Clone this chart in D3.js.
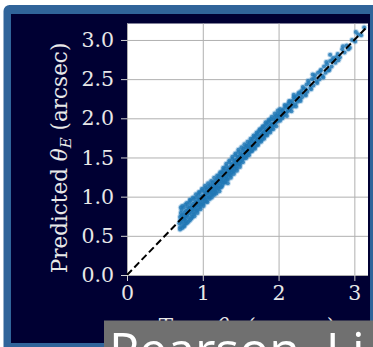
<!DOCTYPE html>
<html>
<head>
<meta charset="utf-8">
<script src="https://cdn.jsdelivr.net/npm/d3@7"></script>
<style>
  html, body { margin: 0; padding: 0; background: #ffffff; }
  svg { display: block; }
</style>
</head>
<body>
<svg id="chart" width="373" height="347"></svg>
<script>
// true vs predicted Einstein radius (arcsec)
var trueTheta = [
  0.69,0.70,0.70,0.71,0.71,0.72,0.72,0.73,0.73,0.74,0.74,0.75,0.75,0.76,0.76,0.77,0.77,0.78,0.78,0.79,0.79,0.80,0.80,0.70,0.72,0.74,0.76,0.78,
  0.81,0.81,0.82,0.82,0.83,0.83,0.84,0.84,0.85,0.85,0.86,0.86,0.87,0.87,0.88,0.88,0.89,0.89,0.90,0.90,0.91,0.91,0.92,0.92,0.93,0.93,0.94,0.94,0.95,0.95,0.96,0.96,0.97,0.97,0.98,0.98,0.99,0.99,
  1.00,1.00,1.01,1.01,1.02,1.02,1.03,1.03,1.04,1.04,1.05,1.05,1.06,1.06,1.07,1.07,1.08,1.08,1.09,1.09,1.10,1.10,1.11,1.11,1.12,1.12,1.13,1.13,1.14,1.14,1.15,1.15,1.16,1.16,1.17,1.17,1.18,1.18,1.19,1.19,1.20,1.20,
  1.21,1.21,1.22,1.22,1.23,1.23,1.24,1.24,1.25,1.25,1.26,1.26,1.27,1.27,1.28,1.28,1.29,1.29,1.30,1.30,1.31,1.31,1.32,1.32,1.33,1.33,1.34,1.34,1.35,1.35,1.36,1.36,1.37,1.37,1.38,1.38,1.39,1.39,1.40,1.40,
  1.41,1.41,1.42,1.42,1.43,1.43,1.44,1.44,1.45,1.45,1.46,1.46,1.47,1.47,1.48,1.48,1.49,1.49,1.50,1.50,1.51,1.52,1.52,1.53,1.54,1.54,1.55,1.56,1.56,1.57,1.58,1.58,1.59,1.60,1.60,
  1.61,1.62,1.62,1.63,1.64,1.64,1.65,1.66,1.66,1.67,1.68,1.68,1.69,1.70,1.70,1.71,1.72,1.72,1.73,1.74,1.74,1.75,1.76,1.76,1.77,1.78,1.78,1.79,1.80,1.80,
  1.81,1.82,1.82,1.83,1.84,1.84,1.85,1.86,1.86,1.87,1.88,1.88,1.89,1.90,1.90,1.91,1.92,1.93,1.94,1.95,1.96,1.97,1.98,1.99,2.00,
  2.01,2.02,2.03,2.04,2.05,2.06,2.07,2.08,2.09,2.10,2.11,2.12,2.13,2.14,2.15,2.16,2.18,2.19,2.21,2.22,2.24,2.25,2.27,2.28,2.30,2.31,2.33,2.35,2.37,2.38,2.40,
  2.42,2.44,2.46,2.48,2.50,2.52,2.54,2.56,2.58,2.60,2.62,2.64,2.66,2.68,2.70,2.72,2.75,2.78,
  2.81,2.84,2.87,2.90,2.94,2.97,3.01,3.05,3.09,3.13,2.68,2.45,2.20,
  0.70,0.71,0.73,0.75,0.77,0.79,0.81,0.83,0.85,0.87,0.89,0.91,0.93,0.95,0.97,0.99,1.01,1.03,1.05,1.07,1.09,1.11,1.13,1.15,1.17,1.19,1.21,1.23,1.25,1.27,1.29,1.31,1.33,
  1.35,1.37,1.39,1.41,1.43,1.45,1.47,1.49,1.51,1.53,1.55,1.57,1.59,1.61,1.63,1.65,1.67,1.69,1.71,1.73,1.75,1.77,1.79,1.81,1.83,1.85,1.87,1.89,1.91,1.93,1.95,1.97,1.99,
  2.02,2.05,2.08,2.11,2.14,2.17,2.20,2.23,2.26,2.29,2.32,2.36,2.39,2.43,2.47,2.51,2.55,2.59,2.63,2.67,2.71,2.76,2.79,2.85,2.92,3.02,
  0.75,0.80,0.84,0.88,0.92,0.96,1.00,1.04,1.08,1.12,1.16,1.20,1.24,1.28,1.32,1.36,1.40,1.44,1.48,1.52,1.56,1.60,1.64,1.68,1.72,1.76,1.80,1.84,1.88,1.92,1.96,2.00,
  2.06,2.12,2.18,2.24,2.30,2.36
];
var predTheta = [
  0.66,0.74,0.61,0.79,0.70,0.65,0.83,0.72,0.60,0.77,0.68,0.86,0.71,0.63,0.80,0.74,0.90,0.69,0.82,0.76,0.66,0.87,0.78,0.69,0.76,0.73,0.71,0.77,
  0.73,0.84,0.92,0.79,0.70,0.86,0.81,0.95,0.77,0.88,0.83,0.74,0.91,0.85,0.80,0.97,0.87,0.78,0.93,0.84,0.99,0.88,0.82,0.94,0.89,0.79,1.02,0.92,0.86,0.97,0.91,1.05,0.84,0.95,1.00,0.90,0.96,1.08,
  0.92,1.01,0.97,0.88,1.06,1.00,0.94,1.11,1.03,0.96,1.09,0.99,1.04,0.93,1.13,1.06,1.00,1.10,1.05,0.97,1.15,1.08,1.02,1.12,1.07,0.99,1.18,1.10,1.05,1.14,1.09,1.02,1.20,1.13,1.08,1.17,1.12,1.04,1.23,1.16,1.11,1.19,
  1.14,1.26,1.07,1.20,1.17,1.29,1.12,1.22,1.19,1.31,1.15,1.25,1.21,1.34,1.18,1.27,1.24,1.36,1.20,1.30,1.26,1.39,1.23,1.33,1.29,1.17,1.36,1.27,1.32,1.44,1.29,1.38,1.34,1.24,1.41,1.31,1.37,1.48,1.33,1.43,
  1.39,1.29,1.46,1.36,1.42,1.53,1.38,1.47,1.43,1.33,1.51,1.41,1.46,1.57,1.43,1.52,1.48,1.38,1.55,1.45,1.51,1.47,1.59,1.53,1.49,1.61,1.55,1.51,1.63,1.57,1.52,1.65,1.59,1.55,1.66,
  1.61,1.57,1.69,1.63,1.59,1.71,1.65,1.61,1.74,1.67,1.63,1.76,1.70,1.65,1.78,1.72,1.67,1.80,1.74,1.70,1.83,1.76,1.72,1.85,1.79,1.73,1.87,1.81,1.76,1.89,
  1.83,1.78,1.91,1.85,1.80,1.93,1.87,1.82,1.95,1.89,1.84,1.97,1.91,1.86,1.99,1.93,1.88,1.98,1.91,2.02,1.94,2.03,1.96,2.06,1.98,
  2.04,1.97,2.08,2.01,2.10,2.03,2.12,2.05,2.15,2.07,2.16,2.09,2.19,2.11,2.21,2.13,2.22,2.15,2.26,2.18,2.28,2.21,2.33,2.24,2.35,2.27,2.38,2.31,2.43,2.34,2.45,
  2.39,2.50,2.42,2.55,2.47,2.58,2.50,2.62,2.54,2.66,2.58,2.69,2.61,2.73,2.66,2.77,2.71,2.82,
  2.78,2.88,2.84,2.93,2.90,3.00,2.98,3.07,3.06,3.16,2.81,2.56,2.30,
  0.58,0.86,0.88,0.62,0.66,0.92,0.68,0.96,0.72,0.99,0.75,1.03,0.83,1.06,0.87,1.10,0.91,1.14,0.94,1.17,0.99,1.20,1.03,1.24,1.06,1.27,1.10,1.31,1.13,1.37,1.18,1.42,1.22,
  1.46,1.27,1.51,1.32,1.55,1.36,1.60,1.41,1.63,1.44,1.67,1.49,1.70,1.53,1.74,1.58,1.78,1.61,1.82,1.66,1.86,1.70,1.90,1.74,1.95,1.78,1.98,1.82,2.02,1.86,2.06,1.90,2.10,
  2.12,2.00,2.17,2.03,2.22,2.09,2.27,2.15,2.31,2.22,2.40,2.29,2.48,2.37,2.51,2.45,2.60,2.52,2.72,2.62,2.74,2.78,2.74,2.92,2.88,3.10,
  0.75,0.81,0.85,0.88,0.91,0.97,0.99,1.05,1.07,1.13,1.16,1.22,1.25,1.30,1.31,1.35,1.39,1.44,1.49,1.53,1.57,1.61,1.65,1.69,1.74,1.77,1.81,1.86,1.90,1.92,1.98,2.02,
  2.07,2.13,2.19,2.24,2.31,2.37
];
var xTicks = [0, 1, 2, 3];
var yTicks = [0, 0.5, 1.0, 1.5, 2.0, 2.5, 3.0];
var axisMax = [3.18, 3.21];

var svg = d3.select("#chart");

// frame
svg.append("rect").attr("x",3.5).attr("y",5).attr("width",375).attr("height",348).attr("rx",6).attr("fill","#30649a");
svg.append("rect").attr("x",11).attr("y",14).attr("width",359).attr("height",329).attr("fill","#000033");

var plot = {left:127, right:368, top:23.5, bottom:275};
var x = d3.scaleLinear().domain([0, axisMax[0]]).range([plot.left, plot.right]);
var y = d3.scaleLinear().domain([0, axisMax[1]]).range([plot.bottom, plot.top]);

svg.append("rect").attr("x",plot.left).attr("y",plot.top)
    .attr("width",plot.right-plot.left).attr("height",plot.bottom-plot.top).attr("fill","#ffffff");

// grid
var gx = svg.append("g").attr("transform","translate(0,"+plot.bottom+")")
    .call(d3.axisBottom(x).tickValues(xTicks).tickSize(-(plot.bottom-plot.top)).tickFormat(""));
var gy = svg.append("g").attr("transform","translate("+plot.left+",0)")
    .call(d3.axisLeft(y).tickValues(yTicks).tickSize(-(plot.right-plot.left)).tickFormat(""));
[gx,gy].forEach(function(g){
  g.select(".domain").remove();
  g.selectAll("line").attr("stroke","#b0b0b0").attr("stroke-width",1);
});

// points: light halo first, then the solid core
var pts = d3.range(Math.min(trueTheta.length, predTheta.length));
var dots = svg.append("g");
dots.selectAll("circle.halo").data(pts).enter().append("circle").attr("class","halo")
    .attr("cx",function(i){return x(trueTheta[i]);})
    .attr("cy",function(i){return y(predTheta[i]);})
    .attr("r",3)
    .attr("fill","#5a9fd0")
    .attr("fill-opacity",0.35);
dots.selectAll("circle.core").data(pts).enter().append("circle").attr("class","core")
    .attr("cx",function(i){return x(trueTheta[i]);})
    .attr("cy",function(i){return y(predTheta[i]);})
    .attr("r",2)
    .attr("fill","#1f77b4")
    .attr("fill-opacity",0.8);

// y = x
svg.append("path").datum([0, axisMax[0]])
    .attr("d", d3.line().x(function(d){return x(d);}).y(function(d){return y(d);}))
    .attr("stroke","#000").attr("stroke-width",2).attr("stroke-dasharray","7,3.5").attr("fill","none");

// axes
var labelFont = "'DejaVu Serif', serif";
var ax = svg.append("g").attr("transform","translate(0,"+plot.bottom+")")
    .call(d3.axisBottom(x).tickValues(xTicks).tickSize(6).tickPadding(4).tickFormat(d3.format("d")));
var ay = svg.append("g").attr("transform","translate("+plot.left+",0)")
    .call(d3.axisLeft(y).tickValues(yTicks).tickSize(6).tickPadding(7).tickFormat(d3.format(".1f")));
[ax,ay].forEach(function(g){
  g.select(".domain").remove();
  g.selectAll("line").attr("stroke","#d0d0d0");
  g.selectAll("text").attr("fill","#e8e8e8").style("font-family",labelFont).style("font-size","20.5px");
});

// axis labels
var yl = svg.append("text").attr("transform","translate(67,158) rotate(-90)")
    .attr("text-anchor","middle").attr("fill","#e8e8e8")
    .style("font-family",labelFont).style("font-size","21.5px");
yl.append("tspan").text("Predicted ");
yl.append("tspan").style("font-style","italic").text("\u03b8");
yl.append("tspan").style("font-style","italic").style("font-size","15px").attr("dy",4).text("E");
yl.append("tspan").attr("dy",-4).text(" (arcsec)");

var xl = svg.append("text").attr("x",247).attr("y",334)
    .attr("text-anchor","middle").attr("fill","#e8e8e8")
    .style("font-family",labelFont).style("font-size","21.5px");
xl.append("tspan").text("True ");
xl.append("tspan").style("font-style","italic").text("\u03b8");
xl.append("tspan").style("font-style","italic").style("font-size","15px").attr("dy",4).text("E");
xl.append("tspan").attr("dy",-4).text(" (arcsec)");

// overlay caption box
svg.append("rect").attr("x",104).attr("y",320.5).attr("width",269).attr("height",27).attr("fill","#707070");
svg.append("text").attr("x",109).attr("y",368).attr("fill","#ffffff")
    .style("font-family","'Open Sans', sans-serif").style("font-size","50px").text("Pearson, Li");
</script>
</body>
</html>
